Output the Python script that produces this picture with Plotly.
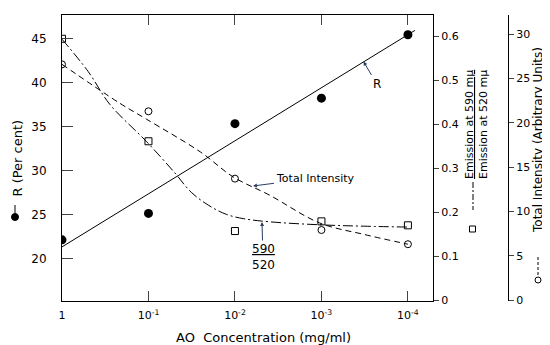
import plotly.graph_objects as go

# ---------------- data ----------------
conc = [1, 1e-1, 1e-2, 1e-3, 1e-4]
tick_text = ["1", "10<sup>-1</sup>", "10<sup>-2</sup>", "10<sup>-3</sup>", "10<sup>-4</sup>"]

r_values = [22.1, 25.1, 35.3, 38.2, 45.4]               # R (per cent), filled circles
ratio_values = [0.594, 0.361, 0.157, 0.179, 0.170]      # 590/520 ratio, open squares
intensity_values = [26.6, 21.3, 13.7, 7.9, 6.3]         # total intensity, open circles

# fitted R line (straight on log scale)
r_line_conc = [1, 0.000083]
r_line_values = [21.3, 45.9]

# dash-dot ratio curve
ratio_curve_conc = [1, 0.5, 0.28, 0.105, 0.05, 0.032, 0.02, 0.0126, 0.0079, 0.004, 0.001, 0.00032, 0.0001]
ratio_curve_values = [0.593, 0.52, 0.445, 0.36, 0.29, 0.245, 0.215, 0.195, 0.185, 0.178, 0.171, 0.168, 0.166]

# dashed total-intensity curve
int_curve_conc = [1, 0.214, 0.105, 0.025, 0.0105, 0.004, 0.00105, 0.00032, 0.0001]
int_curve_values = [26.6, 22.2, 20.4, 16.7, 13.9, 11.85, 8.7, 7.4, 6.3]

r_ticks = [20, 25, 30, 35, 40, 45]
ratio_ticks = [0, 0.1, 0.2, 0.3, 0.4, 0.5, 0.6]
ratio_tick_text = ["0", "0.1", "0.2", "0.3", "0.4", "0.5", "0.6"]
int_ticks = [0, 5, 10, 15, 20, 25, 30]

# ---------------- layout geometry ----------------
OFF = 8                      # default page body margin
W, H = 542, 337
ML, MT = 54, 7
PW, PH = 446, 286
MR, MB = W - ML - PW, H - MT - PH
FONT = "DejaVu Sans"


def px(x):
    return (x - OFF - ML) / PW


def py(y):
    return (OFF + MT + PH - y) / PH


fig = go.Figure()

fig.add_trace(go.Scatter(x=r_line_conc, y=r_line_values, mode="lines",
                         line=dict(color="black", width=1), yaxis="y", hoverinfo="skip"))
fig.add_trace(go.Scatter(x=conc, y=r_values, mode="markers",
                         marker=dict(symbol="circle", size=9, color="black"), yaxis="y"))

fig.add_trace(go.Scatter(x=ratio_curve_conc, y=ratio_curve_values, mode="lines", line_shape="spline",
                         line=dict(color="black", width=1, dash="10px,3px,2px,3px"), yaxis="y2"))
fig.add_trace(go.Scatter(x=conc, y=ratio_values, mode="markers",
                         marker=dict(symbol="square-open", size=7, color="black", line=dict(width=1)),
                         yaxis="y2"))

fig.add_trace(go.Scatter(x=int_curve_conc, y=int_curve_values, mode="lines", line_shape="spline",
                         line=dict(color="black", width=1, dash="6px,4px"), yaxis="y3"))
fig.add_trace(go.Scatter(x=conc, y=intensity_values, mode="markers",
                         marker=dict(symbol="circle-open", size=7, color="black", line=dict(width=1)),
                         yaxis="y3"))

axis_font = dict(family=FONT, size=11, color="black")

fig.update_layout(
    width=W, height=H,
    margin=dict(l=ML, r=MR, t=MT, b=MB, autoexpand=False),
    paper_bgcolor="white", plot_bgcolor="white",
    showlegend=False,
    font=dict(family=FONT, size=12, color="black"),
    xaxis=dict(type="log", range=[0, -4.29], domain=[0, 371 / PW],
               tickvals=conc, ticktext=tick_text, ticks="inside", ticklen=10,
               showline=True, linecolor="black", linewidth=1, mirror="ticks",
               showgrid=False, zeroline=False, tickfont=axis_font, ticklabelstandoff=4),
    yaxis=dict(range=[15.15, 47.65], tickvals=r_ticks, ticks="inside", ticklen=11,
               showline=True, linecolor="black", linewidth=1, showgrid=False, zeroline=False,
               ticklabelstandoff=12, tickfont=dict(family=FONT, size=12, color="black")),
    yaxis2=dict(range=[-0.002, 0.648], overlaying="y", side="right", anchor="x",
                tickvals=ratio_ticks, ticktext=ratio_tick_text, ticks="outside", ticklen=5,
                showline=True, linecolor="black", linewidth=1, showgrid=False, zeroline=False,
                tickfont=axis_font),
    yaxis3=dict(range=[-0.11, 32.17], overlaying="y", side="right", anchor="free", position=1.0,
                tickvals=int_ticks, ticks="outside", ticklen=5,
                showline=True, linecolor="black", linewidth=1, showgrid=False, zeroline=False,
                tickfont=axis_font),
)

C = dict(xref="paper", yref="paper", xanchor="center", yanchor="middle")
ann = []
# x axis title
ann.append(dict(C, x=px(263), y=py(337), showarrow=False,
                text="AO  Concentration (mg/ml)", font=dict(family=FONT, size=13)))
# left title
ann.append(dict(C, x=px(16.5), y=py(158), showarrow=False, textangle=-90,
                text="R (Per cent)", font=dict(family=FONT, size=13)))
# ratio title
ann.append(dict(C, x=px(477), y=py(125), showarrow=False, textangle=-90,
                text="<u>Emission at 590 mμ</u><br>Emission at 520 mμ",
                font=dict(family=FONT, size=11)))
# intensity title
ann.append(dict(C, x=px(538), y=py(140), showarrow=False, textangle=-90,
                text="Total Intensity (Arbitrary Units)", font=dict(family=FONT, size=12)))
# in-plot labels
ann.append(dict(xref="paper", yref="paper", x=px(363.5), y=py(61.5), ax=13, ay=22,
                text="R", showarrow=True, arrowhead=2, arrowsize=0.8, arrowwidth=1,
                font=dict(family=FONT, size=12)))
ann.append(dict(xref="paper", yref="paper", x=px(253), y=py(186), ax=62, ay=-8,
                text="Total Intensity", showarrow=True, arrowhead=2, arrowsize=0.8, arrowwidth=1,
                font=dict(family=FONT, size=11)))
ann.append(dict(xref="paper", yref="paper", x=px(262), y=py(222), ax=1, ay=35,
                text="<u>590</u><br>520", showarrow=True, arrowhead=2, arrowsize=0.8, arrowwidth=1,
                font=dict(family=FONT, size=12)))
fig.update_layout(annotations=ann)

shapes = []
# left key: line + filled dot
shapes.append(dict(type="line", xref="paper", yref="paper", x0=px(15), x1=px(15), y0=py(205), y1=py(213),
                   line=dict(color="black", width=1)))
shapes.append(dict(type="circle", xref="paper", yref="paper", x0=px(11.5), x1=px(18.5), y0=py(213.5), y1=py(220.5),
                   fillcolor="black", line=dict(color="black", width=1)))
# ratio key: dash-dot line + square
shapes.append(dict(type="line", xref="paper", yref="paper", x0=px(473), x1=px(473), y0=py(182), y1=py(210),
                   line=dict(color="black", width=1, dash="6px,2px,2px,2px")))
shapes.append(dict(type="rect", xref="paper", yref="paper", x0=px(469.5), x1=px(475.5), y0=py(226), y1=py(232),
                   line=dict(color="black", width=1)))
# intensity key: dashed line + open circle
shapes.append(dict(type="line", xref="paper", yref="paper", x0=px(538), x1=px(538), y0=py(257), y1=py(275),
                   line=dict(color="black", width=1, dash="3px,2px")))
shapes.append(dict(type="circle", xref="paper", yref="paper", x0=px(535), x1=px(541), y0=py(277), y1=py(283),
                   line=dict(color="black", width=1)))
fig.update_layout(shapes=shapes)

fig.write_html("out.html")
